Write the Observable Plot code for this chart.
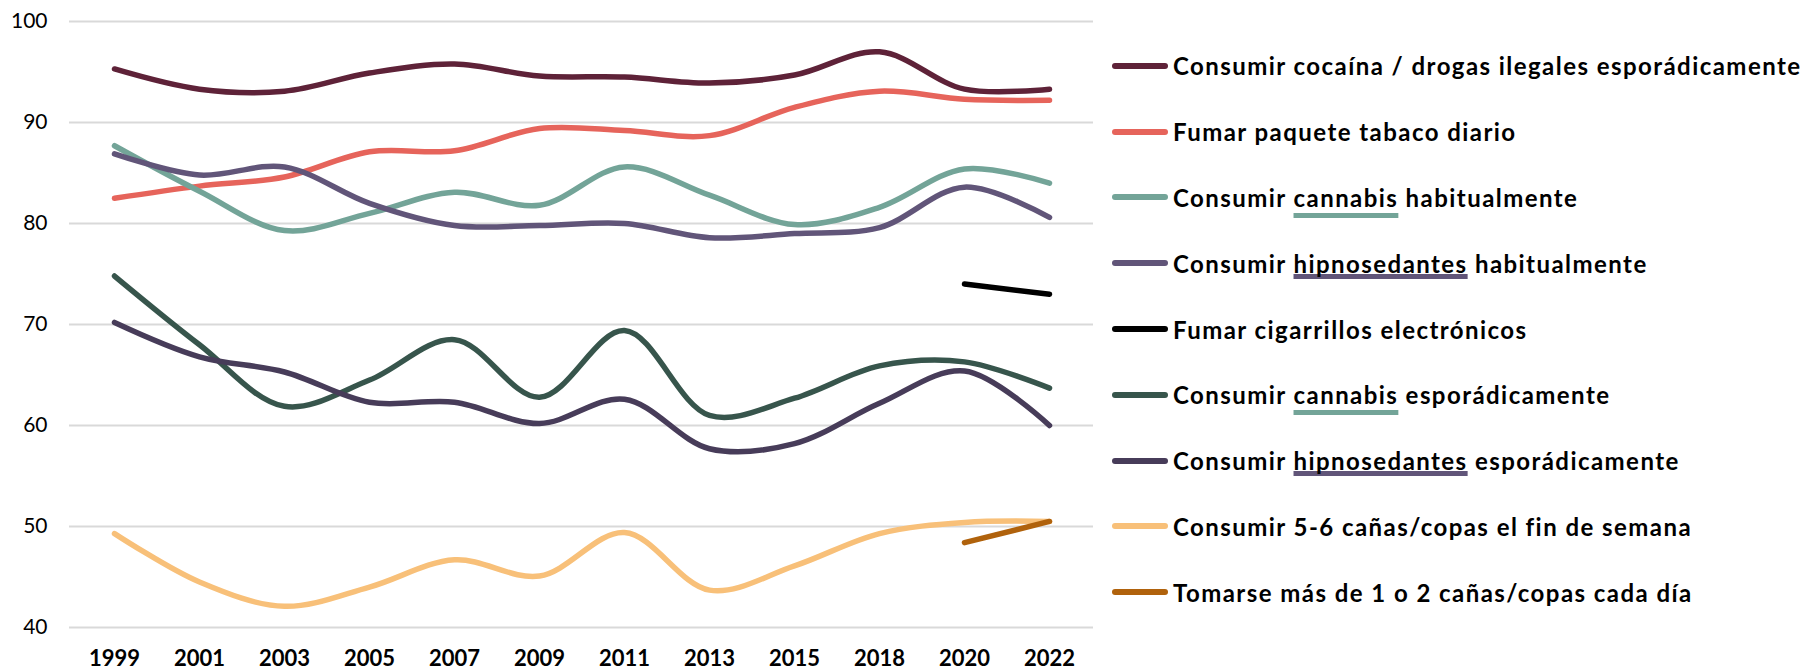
<!DOCTYPE html>
<html>
<head>
<meta charset="utf-8">
<script src="https://cdn.jsdelivr.net/npm/d3@7"></script>
<script src="https://cdn.jsdelivr.net/npm/@observablehq/plot@0.6"></script>
<style>
  html, body { margin: 0; padding: 0; background: #fff; }
  #wrap { position: relative; width: 1808px; height: 671px; font-family: Lato, "Open Sans", sans-serif; }
  #legend { position: absolute; left: 1112px; top: 33px; }
  .row { display: flex; align-items: center; height: 65.8px; white-space: nowrap; }
  .sw { width: 56px; height: 6px; border-radius: 3px; margin-right: 5px; flex: none; }
  .lab { font-weight: bold; font-size: 24px; color: #000; }
  .ul { text-decoration: underline; text-decoration-thickness: 5px; text-decoration-skip-ink: none; }
</style>
</head>
<body>
<div id="wrap"><div id="chart"></div><div id="legend"></div></div>
<script>
const years = ["1999","2001","2003","2005","2007","2009","2011","2013","2015","2018","2020","2022"];
const yTicks = [40, 50, 60, 70, 80, 90, 100];

const seriesNames = [
  "Consumir cocaína / drogas ilegales esporádicamente",
  "Fumar paquete tabaco diario",
  "Consumir cannabis habitualmente",
  "Consumir hipnosedantes habitualmente",
  "Fumar cigarrillos electrónicos",
  "Consumir cannabis esporádicamente",
  "Consumir hipnosedantes esporádicamente",
  "Consumir 5-6 cañas/copas el fin de semana",
  "Tomarse más de 1 o 2 cañas/copas cada día"
];
const seriesColors = ["#5e2238", "#e6645b", "#73a498", "#615579", "#000000", "#37554c", "#473c59", "#f8c079", "#b0620c"];

const cocaina        = [95.3, 93.3, 93.1, 94.9, 95.8, 94.6, 94.5, 93.9, 94.7, 97.0, 93.3, 93.3];
const tabaco         = [82.5, 83.7, 84.6, 87.1, 87.2, 89.4, 89.2, 88.7, 91.5, 93.1, 92.3, 92.2];
const cannabisHab    = [87.7, 83.2, 79.3, 81.0, 83.1, 81.8, 85.6, 82.8, 79.9, 81.6, 85.4, 84.0];
const hipnoHab       = [86.9, 84.8, 85.6, 82.0, 79.8, 79.8, 80.0, 78.6, 79.0, 79.6, 83.6, 80.6];
const cigElectronico = [null, null, null, null, null, null, null, null, null, null, 74.0, 73.0];
const cannabisEsp    = [74.8, 68.0, 61.9, 64.5, 68.5, 62.8, 69.4, 61.0, 62.7, 65.9, 66.3, 63.7];
const hipnoEsp       = [70.2, 66.8, 65.3, 62.3, 62.3, 60.2, 62.6, 57.7, 58.2, 62.2, 65.4, 60.0];
const canasFinde     = [49.3, 44.5, 42.1, 44.0, 46.7, 45.1, 49.4, 43.7, 46.1, 49.3, 50.4, 50.5];
const canasDiario    = [null, null, null, null, null, null, null, null, null, null, 48.4, 50.5];

const seriesValues = [cocaina, tabaco, cannabisHab, hipnoHab, cigElectronico, cannabisEsp, hipnoEsp, canasFinde, canasDiario];

const tidy = [];
seriesNames.forEach((name, i) => {
  seriesValues[i].forEach((v, j) => {
    if (v != null) tidy.push({series: name, year: years[j], value: v});
  });
});

const chart = Plot.plot({
  width: 1808,
  height: 671,
  marginLeft: 69,
  marginRight: 715,
  marginTop: 21,
  marginBottom: 44,
  style: {fontFamily: "Lato, 'Open Sans', sans-serif", color: "#000", background: "#fff"},
  x: {type: "point", domain: years, padding: 0.5},
  y: {domain: [40, 100]},
  color: {domain: seriesNames, range: seriesColors},
  marks: [
    Plot.ruleY(yTicks, {stroke: "#d9d9d9", strokeWidth: 2}),
    Plot.axisY(yTicks, {tickSize: 0, tickPadding: 22, label: null, fontSize: 21, fill: "#000"}),
    Plot.axisX({tickSize: 0, tickPadding: 23, label: null, fontSize: 22, fontWeight: "bold", fill: "#000"}),
    Plot.line(tidy, {
      x: "year", y: "value", z: "series", stroke: "series",
      curve: "catmull-rom", strokeWidth: 5.5,
      strokeLinecap: "round", strokeLinejoin: "round"
    })
  ]
});
chart.style.display = "block";
document.getElementById("chart").appendChild(chart);

// legend
const legend = document.getElementById("legend");
const ctx = document.createElement("canvas").getContext("2d");
ctx.font = "bold 24px Lato";
const longest = seriesNames[0];
const w = ctx.measureText(longest).width;
const spacing = Math.max(0, (629 - w) / longest.length);
const underlineColor = {"cannabis": "#73a498", "hipnosedantes": "#615579"};
const underlineOffset = {"cannabis": "6px", "hipnosedantes": "1px"};
seriesNames.forEach((name, i) => {
  const row = document.createElement("div");
  row.className = "row";
  const sw = document.createElement("div");
  sw.className = "sw";
  sw.style.background = seriesColors[i];
  row.appendChild(sw);
  const lab = document.createElement("span");
  lab.className = "lab";
  lab.style.letterSpacing = spacing + "px";
  const m = name.match(/^(Consumir )(cannabis|hipnosedantes)( .*)$/);
  if (m) {
    lab.appendChild(document.createTextNode(m[1]));
    const u = document.createElement("span");
    u.className = "ul";
    u.textContent = m[2];
    u.style.textDecorationColor = underlineColor[m[2]];
    u.style.textUnderlineOffset = underlineOffset[m[2]];
    lab.appendChild(u);
    lab.appendChild(document.createTextNode(m[3]));
  } else {
    lab.textContent = name;
  }
  row.appendChild(lab);
  legend.appendChild(row);
});
</script>
</body>
</html>
